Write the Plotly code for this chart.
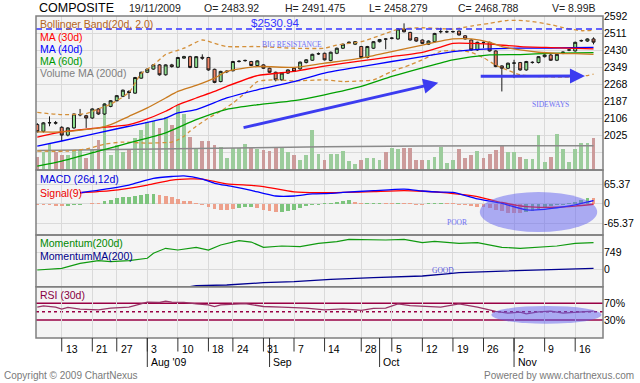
import plotly.graph_objects as go

# ---------------- data (x = trading-day index, Jul 6 2009 .. Nov 19 2009) ----------------
days = list(range(92))
tick_idx = [4, 9, 13, 18, 23, 28, 32, 37, 42, 47, 53, 58, 63, 68, 73, 78, 83, 88]
tick_lbl = ["13", "21", "27", "3", "10", "18", "24", "31", "7", "14", "28", "5", "12", "19", "26", "2", "9", "16"]
month_idx = [18, 38, 56, 78]
month_lbl = ["Aug '09", "Sep", "Oct", "Nov"]

open_ = [2078, 2046, 2086, 2087, 2065, 2028, 2062, 2124, 2120, 2109,
         2152, 2128, 2164, 2191, 2212, 2235, 2227, 2298, 2326, 2341,
         2361, 2314, 2361, 2350, 2393, 2400, 2349, 2397, 2396, 2340,
         2282, 2328, 2333, 2377, 2381, 2377, 2358, 2361, 2345, 2326,
         2290, 2322, 2345, 2342, 2372, 2383, 2413, 2416, 2382, 2416,
         2440, 2465, 2459, 2448, 2396, 2440, 2471, 2484, 2487, 2484,
         2531, 2515, 2490, 2479, 2459, 2471, 2518, 2518, 2518, 2521,
         2499, 2479, 2432, 2468, 2468, 2427, 2356, 2345, 2369, 2372,
         2337, 2372, 2372, 2400, 2408, 2383, 2420, 2431, 2427, 2475,
         2474, 2483.92]
high = [2085, 2090, 2117, 2095, 2070, 2066, 2130, 2152, 2124, 2155,
        2156, 2178, 2194, 2218, 2244, 2241, 2304, 2329, 2344, 2364,
        2365, 2364, 2366, 2399, 2404, 2404, 2403, 2411, 2399, 2343,
        2333, 2335, 2380, 2384, 2386, 2380, 2383, 2364, 2348, 2329,
        2325, 2340, 2348, 2377, 2388, 2414, 2420, 2419, 2424, 2443,
        2462, 2472, 2474, 2451, 2451, 2474, 2484, 2488, 2492, 2534,
        2558, 2518, 2493, 2482, 2477, 2513, 2537, 2524, 2523, 2524,
        2502, 2482, 2471, 2472, 2471, 2430, 2359, 2372, 2385, 2375,
        2380, 2378, 2403, 2411, 2412, 2414, 2425, 2436, 2471, 2481,
        2487, 2491.475]
low = [2040, 2040, 2070, 2078, 1999, 2022, 2058, 2117, 2062, 2105,
       2124, 2124, 2160, 2188, 2208, 2199, 2224, 2295, 2322, 2338,
       2310, 2310, 2348, 2346, 2390, 2345, 2346, 2385, 2333, 2274,
       2278, 2322, 2330, 2372, 2376, 2355, 2355, 2342, 2323, 2283,
       2286, 2318, 2327, 2338, 2368, 2380, 2408, 2382, 2378, 2412,
       2436, 2460, 2455, 2393, 2392, 2436, 2467, 2435, 2482, 2480,
       2515, 2476, 2470, 2460, 2455, 2468, 2510, 2512, 2513, 2500,
       2481, 2429, 2428, 2440, 2424, 2350, 2235, 2341, 2298, 2333,
       2333, 2367, 2368, 2396, 2380, 2379, 2412, 2426, 2424, 2470,
       2470, 2458.279]
close = [2044, 2086, 2087, 2085, 2028, 2062, 2128, 2125, 2109, 2152,
         2128, 2175, 2191, 2215, 2241, 2230, 2301, 2326, 2341, 2361,
         2314, 2361, 2353, 2396, 2400, 2349, 2400, 2393, 2337, 2278,
         2330, 2331, 2377, 2378, 2382, 2358, 2380, 2345, 2326, 2290,
         2322, 2337, 2330, 2374, 2385, 2411, 2414, 2385, 2421, 2440,
         2459, 2468, 2471, 2396, 2448, 2471, 2481, 2483, 2488, 2531,
         2518, 2479, 2474, 2463, 2474, 2510, 2519, 2518, 2519, 2503,
         2484, 2432, 2468, 2467, 2427, 2353, 2345, 2369, 2370, 2337,
         2377, 2373, 2400, 2408, 2383, 2411, 2421, 2432, 2468, 2476,
         2484, 2468.788]
volume_b = [3.8, 5.2, 7.3, 5.2, 4.3, 4.3, 5.7, 5.7, 3.3, 5.7,
            8.5, 18.9, 4.3, 7.1, 5.2, 5.7, 9.0, 11.3, 13.7, 13.9,
            11.8, 15.1, 12.8, 18.4, 15.8, 9.5, 6.0, 8.2, 8.2, 7.1,
            6.6, 3.3, 6.3, 6.3, 7.3, 6.3, 6.0, 5.7, 5.4, 6.3,
            6.3, 5.2, 4.3, 2.8, 4.3, 11.3, 4.6, 2.8, 4.4, 4.4,
            5.4, 2.6, 1.6, 2.8, 3.5, 3.5, 2.8, 5.2, 6.3, 6.1,
            6.3, 6.3, 2.8, 2.8, 2.8, 3.8, 6.6, 1.9, 2.8, 6.1,
            3.5, 4.3, 5.4, 3.3, 4.4, 5.7, 7.1, 5.2, 5.2, 3.8,
            3.1, 3.1, 9.9, 2.4, 3.8, 10.1, 6.1, 2.4, 6.1, 7.6,
            7.6, 8.99]
vma_i = [0, 16, 31, 47, 63, 91]
vma_v = [5.5, 5.9, 6.3, 6.6, 6.8, 6.9]

bb_mid_i = [0, 4, 10, 12, 15, 18, 21, 23, 26, 29, 31, 36, 42, 47, 53, 58, 63, 66, 68, 71, 74, 76, 79, 82, 85, 88, 91]
bb_mid_v = [2043, 2043, 2062, 2078, 2117, 2157, 2204, 2235, 2264, 2298, 2330, 2353, 2349, 2369, 2393, 2424, 2455,
            2474, 2484, 2484, 2468, 2448, 2432, 2421, 2416, 2414, 2411]
bb_up_i = [0, 4, 8, 10, 12, 15, 17, 19, 21, 24, 27, 29, 31, 36, 42, 47, 49, 53, 55, 57, 59, 63, 68, 71, 74, 77,
           80, 84, 86, 89, 91]
bb_up_v = [2136, 2125, 2130, 2152, 2175, 2230, 2320, 2360, 2410, 2440, 2479, 2463, 2448, 2448, 2440, 2440, 2455,
           2471, 2490, 2510, 2530, 2537, 2531, 2545, 2558, 2572, 2570, 2552, 2538, 2523, 2526]
bb_lo_i = [0, 5, 8, 11, 14, 18, 22, 23, 24, 25, 26, 28, 30, 32, 34, 36, 39, 42, 47, 50, 53, 55, 58, 61, 63, 66,
           69, 71, 73, 75, 77, 79, 82, 86, 89, 91]
bb_lo_v = [1952, 1952, 1962, 1985, 1995, 1990, 1995, 2005, 2023, 2047, 2070, 2109, 2141, 2180, 2227, 2282, 2290,
           2285, 2290, 2282, 2285, 2290, 2330, 2361, 2385, 2425, 2430, 2420, 2395, 2360, 2335, 2314, 2306, 2303,
           2306, 2317]
ma30_i = [0, 4, 10, 15, 17, 21, 23, 26, 29, 31, 36, 42, 47, 53, 58, 63, 66, 68, 71, 74, 79, 84, 91]
ma30_v = [2018, 2043, 2062, 2078, 2094, 2141, 2172, 2204, 2235, 2259, 2310, 2330, 2355, 2380, 2400, 2420, 2445,
          2463, 2463, 2459, 2448, 2443, 2437]
ma40_i = [0, 4, 10, 15, 21, 23, 26, 31, 36, 42, 47, 53, 58, 63, 68, 74, 79, 84, 91]
ma40_v = [1976, 2000, 2039, 2070, 2109, 2133, 2149, 2204, 2243, 2282, 2322, 2353, 2377, 2400, 2424, 2437, 2440,
          2441, 2444]
ma60_i = [0, 4, 10, 15, 21, 26, 31, 36, 42, 47, 53, 58, 63, 68, 74, 79, 84, 91]
ma60_v = [1881, 1905, 1952, 1991, 2039, 2101, 2150, 2172, 2191, 2219, 2259, 2306, 2347, 2385, 2408, 2410, 2416, 2419]

resistance = 2530.94

macd_i = [7, 12, 15, 19, 22, 24, 27, 29, 32, 35, 37, 39, 42, 45, 48, 50, 55, 60, 63, 66, 68, 72, 76, 80, 83, 86, 88, 91]
macd_v = [37, 52, 63, 86, 92, 94, 83, 69, 58, 45, 35, 26, 26, 33, 35, 38, 44, 49, 43, 39, 38, 16, 1, -21, -19, -11, -4, 10]
sig_i = [7, 12, 18, 22, 25, 27, 31, 35, 37, 42, 46, 50, 55, 60, 63, 66, 72, 76, 80, 85, 88, 91]
sig_v = [37, 44, 63, 80, 84, 83, 67, 62, 58, 40, 37, 38, 41, 44, 42, 38, 24, 4, -10, -12, -8, -2]
hist_v = [-5.5, -5.5, -3.3, -7.8, -7.8, -7.8, -5.5, -3.3, -2, 3.5,
          3.5, 8, 12.5, 18, 21.6, 24, 26, 29.5, 33, 33,
          29.5, 26, 21.6, 14.8, 10, 8, 3.5, -3.3, -12, -19,
          -21, -21, -19, -15, -12, -12, -13, -20, -26, -28,
          -27, -25, -22, -14, -8, -4, -3, 3, 4, 6,
          8, 11, 6, 3, 3, 4, 4, 3, 3, 4,
          3, 3, -3, -3, 3, 4, 4, 3, 3, -3,
          -4, -8, -10, -12, -14, -20, -26, -30, -32, -32,
          -28, -24, -19, -14, -9, -5, -3, 3, 6, 12,
          18, 20]
hist_up = [0, 0, 0, 0, 0, 1, 1, 1, 1, 0,
           0, 1, 1, 1, 1, 1, 1, 1, 1, 1,
           0, 0, 0, 0, 0, 0, 0, 0, 0, 0,
           0, 0, 0, 1, 1, 1, 0, 0, 0, 0,
           1, 1, 1, 1, 1, 1, 1, 1, 1, 1,
           1, 1, 0, 0, 1, 1, 1, 0, 0, 1,
           0, 0, 0, 0, 1, 1, 1, 0, 0, 0,
           0, 0, 0, 0, 0, 0, 0, 0, 0, 0,
           1, 1, 1, 1, 1, 1, 1, 1, 1, 1,
           1, 0]

mom_i = [0, 4, 7, 10, 12, 15, 18, 19, 21, 23, 26, 28, 30, 33, 35, 37, 40, 43, 46, 49, 51, 54, 57, 60, 63, 65,
         67, 69, 72, 76, 79, 82, 85, 88, 91]
mom_v = [-31, 44, 264, 379, 335, 379, 485, 705, 925, 850, 969, 850, 1071, 1260, 1200, 969, 1027, 1000, 1145,
         1216, 1322, 1300, 1290, 1322, 1172, 1230, 1200, 1145, 1172, 969, 925, 969, 1027, 1145, 1172]
momma_i = [25, 26, 31, 37, 42, 48, 55, 63, 67, 69, 75, 82, 88, 91]
momma_v = [-760, -722, -692, -590, -546, -440, -370, -295, -200, -150, -90, -31, 20, 44]

rsi_i = [0, 1, 3, 4, 5, 7, 10, 12, 15, 17, 18, 20, 21, 22, 24, 26, 28, 29, 30, 34, 37, 40, 44, 47, 50, 53, 55,
         57, 59, 61, 63, 66, 69, 72, 75, 77, 79, 80, 82, 84, 86, 88, 91]
rsi_v = [60.6, 63.6, 60.6, 55.9, 59.9, 55.9, 54.2, 58.2, 60.6, 67.6, 72.4, 71.6, 74.7, 72.4, 72.0, 68.4, 66, 62,
         66, 69, 62.2, 60.6, 58.2, 54.3, 56.7, 52.8, 57.5, 58.2, 68.4, 64, 62.2, 60.6, 68.4, 60.6, 50.4, 46.5,
         48.8, 44.9, 49.6, 51.2, 46.5, 48.8, 51.2]

# ---------------- geometry helpers (layout only) ----------------
W, H = 640, 383
LPX, RPX, TPX, BPX = 36, 603, 16, 338


def fx(px):
    return (px - LPX) / (RPX - LPX)


def fy(py):
    return (BPX - py) / (BPX - TPX)


MAIN = [fy(170), 1.0]
MACD = [fy(235), fy(170)]
MOM = [fy(286.7), fy(235)]
RSI = [0.0, fy(286.7)]

FONT = "Liberation Sans, Arial, sans-serif"
SERIF = "Liberation Serif, Times New Roman, serif"
GREEN_C, RED_C = "#8fe08f", "#f08466"
GREEN_V, RED_V = "#9ccc9c", "#cc9b9b"
BB_COL = "#c97a1e"

fig = go.Figure()

# volume
vcol = [GREEN_V if c >= o else RED_V for o, c in zip(open_, close)]
fig.add_trace(go.Bar(x=days, y=volume_b, width=0.62, marker=dict(color=vcol, line=dict(width=0)),
                     xaxis="x", yaxis="y"))
fig.add_trace(go.Scatter(x=vma_i, y=vma_v, mode="lines", line=dict(color="#8a8a8a", width=1.5),
                         xaxis="x", yaxis="y"))

# price overlays
fig.add_trace(go.Scatter(x=bb_up_i, y=bb_up_v, mode="lines", line=dict(color="#d4903a", width=1.3, dash="4px,3px",
                                                                        shape="spline", smoothing=0.6),
                         xaxis="x", yaxis="y5"))
fig.add_trace(go.Scatter(x=bb_lo_i, y=bb_lo_v, mode="lines", line=dict(color="#d4903a", width=1.3, dash="4px,3px",
                                                                        shape="spline", smoothing=0.6),
                         xaxis="x", yaxis="y5"))
fig.add_trace(go.Scatter(x=ma60_i, y=ma60_v, mode="lines", line=dict(color="#00a000", width=1.3, shape="spline",
                                                                      smoothing=0.6), xaxis="x", yaxis="y5"))
fig.add_trace(go.Scatter(x=ma40_i, y=ma40_v, mode="lines", line=dict(color="#0000ff", width=1.3, shape="spline",
                                                                      smoothing=0.6), xaxis="x", yaxis="y5"))
fig.add_trace(go.Scatter(x=ma30_i, y=ma30_v, mode="lines", line=dict(color="#ff0000", width=1.3, shape="spline",
                                                                      smoothing=0.6), xaxis="x", yaxis="y5"))
fig.add_trace(go.Scatter(x=bb_mid_i, y=bb_mid_v, mode="lines", line=dict(color=BB_COL, width=1.3, shape="spline",
                                                                          smoothing=0.6), xaxis="x", yaxis="y5"))
fig.add_trace(go.Candlestick(x=days, open=open_, high=high, low=low, close=close,
                             increasing=dict(fillcolor=GREEN_C, line=dict(color="#1a1a1a", width=1)),
                             decreasing=dict(fillcolor=RED_C, line=dict(color="#1a1a1a", width=1)),
                             whiskerwidth=0, xaxis="x", yaxis="y5"))

# MACD
hcol = ["#7dc47d" if u else "#eda08b" for u in hist_up]
fig.add_trace(go.Bar(x=days, y=hist_v, width=0.62, marker=dict(color=hcol, line=dict(width=0)),
                     xaxis="x2", yaxis="y2"))
fig.add_trace(go.Scatter(x=sig_i, y=sig_v, mode="lines", line=dict(color="#ff0000", width=1.3, shape="spline",
                                                                    smoothing=0.6), xaxis="x2", yaxis="y2"))
fig.add_trace(go.Scatter(x=macd_i, y=macd_v, mode="lines", line=dict(color="#0000ff", width=1.3, shape="spline",
                                                                      smoothing=0.6), xaxis="x2", yaxis="y2"))

# Momentum
fig.add_trace(go.Scatter(x=mom_i, y=mom_v, mode="lines", line=dict(color="#109a10", width=1.2),
                         xaxis="x3", yaxis="y3"))
fig.add_trace(go.Scatter(x=momma_i, y=momma_v, mode="lines", line=dict(color="#000090", width=1.3),
                         xaxis="x3", yaxis="y3"))

# RSI
fig.add_trace(go.Scatter(x=rsi_i, y=rsi_v, mode="lines", line=dict(color="#993366", width=1.3),
                         xaxis="x4", yaxis="y4"))

# ---------------- axes ----------------
xcommon = dict(range=[-0.21, 92.55], tickmode="array", tickvals=tick_idx, showticklabels=False, showgrid=True,
               gridcolor="#dadada", gridwidth=1, zeroline=False, ticks="", showline=False, fixedrange=True)
price_ticks = [1863, 1944, 2025, 2106, 2187, 2268, 2349, 2430, 2511, 2592]
price_text = ["", ""] + [str(v) for v in price_ticks[2:]]
ycommon = dict(side="right", ticks="", showline=False, zeroline=False, gridcolor="#dadada", gridwidth=1,
               tickfont=dict(size=10.5, color="#000"), fixedrange=True)

fig.update_layout(
    width=W, height=H, margin=dict(l=LPX, r=W - RPX, t=TPX, b=H - BPX, autoexpand=False),
    paper_bgcolor="white", plot_bgcolor="#f4f4f4", showlegend=False, hovermode=False,
    font=dict(family=FONT, size=10, color="#000"), bargap=0,
    xaxis=dict(xcommon, anchor="y", rangeslider=dict(visible=False)),
    xaxis2=dict(xcommon, anchor="y2", matches="x"),
    xaxis3=dict(xcommon, anchor="y3", matches="x"),
    xaxis4=dict(xcommon, anchor="y4", matches="x"),
    yaxis=dict(domain=MAIN, range=[0, 43.7], visible=False, fixedrange=True),
    yaxis5=dict(ycommon, overlaying="y", anchor="x", range=[1862.5, 2592.8], tickmode="array",
                tickvals=price_ticks, ticktext=price_text, showgrid=True),
    yaxis2=dict(ycommon, domain=MACD, anchor="x2", range=[-106, 114], tickmode="array",
                tickvals=[-65.37, 0, 65.37], ticktext=["-65.37", "0", "65.37"], showgrid=True),
    yaxis3=dict(ycommon, domain=MOM, anchor="x3", range=[-767, 1511], tickmode="array",
                tickvals=[0, 749], ticktext=["0", "749"], showgrid=True),
    yaxis4=dict(ycommon, domain=RSI, anchor="x4", range=[-12.4, 109], tickmode="array",
                tickvals=[30, 70], ticktext=["30%", "70%"], showgrid=False),
)

shapes = []
for lvl, dash in [(70, "solid"), (30, "solid"), (50, "dot")]:
    shapes.append(dict(type="line", xref="paper", x0=0, x1=1, yref="y4", y0=lvl, y1=lvl,
                       line=dict(color="#990044", width=1.5, dash=dash), layer="below"))
shapes.append(dict(type="line", xref="paper", x0=0, x1=1, yref="y5", y0=resistance, y1=resistance,
                   line=dict(color="#3535ff", width=1.5, dash="6px,4px")))
shapes.append(dict(type="circle", xref="x2", yref="y2", x0=72.4, x1=91.6, y0=-95.9, y1=39.6,
                   fillcolor="rgb(95,95,240)", opacity=0.5, line=dict(width=0)))
shapes.append(dict(type="circle", xref="x4", yref="y4", x0=74.3, x1=92.3, y0=21.3, y1=63.6,
                   fillcolor="rgb(95,95,240)", opacity=0.5, line=dict(width=0)))
for dom in (MAIN, MACD, MOM, RSI):
    shapes.append(dict(type="rect", xref="paper", yref="paper", x0=0, x1=1, y0=dom[0], y1=dom[1],
                       line=dict(color="#7f7f7f", width=1.5), fillcolor="rgba(0,0,0,0)"))
for i in tick_idx:
    shapes.append(dict(type="line", xref="x4", x0=i, x1=i, yref="paper", y0=0, y1=fy(351.5),
                       line=dict(color="#333333", width=1)))
for i in month_idx:
    shapes.append(dict(type="line", xref="x4", x0=i, x1=i, yref="paper", y0=0, y1=fy(367),
                       line=dict(color="#333333", width=1)))

ann = []


def txt(text, x, y, color="#000", size=10, xanchor="left", family=FONT, xref="paper", yref="paper"):
    ann.append(dict(text=text, x=x, y=y, xref=xref, yref=yref, xanchor=xanchor, yanchor="middle",
                    showarrow=False, font=dict(family=family, size=size, color=color)))


txt("COMPOSITE", fx(37), fy(8), size=12.5)
for s, px in [("19/11/2009", 127), ("O= 2483.92", 202), ("H= 2491.475", 283), ("L= 2458.279", 367),
              ("C= 2468.788", 456), ("V= 8.99B", 550)]:
    txt(s, fx(px), fy(8), size=10.5, color="#222")

txt("Bollinger Band(20d, 2.0)", fx(38), fy(24), color="#b5651d", size=10.5)
txt("MA (30d)", fx(38), fy(36.7), color="#ff0000", size=10.5)
txt("MA (40d)", fx(38), fy(49), color="#0000ff", size=10.5)
txt("MA (60d)", fx(38), fy(61), color="#009900", size=10.5)
txt("Volume MA (200d)", fx(38), fy(72.7), color="#808080", size=10.5)
txt("MACD (26d,12d)", fx(38), fy(179.3), color="#0000dd", size=10.5)
txt("Signal(9)", fx(38), fy(192.7), color="#ee0000", size=10.5)
txt("Momentum(200d)", fx(38), fy(243.3), color="#008800", size=10.5)
txt("MomentumMA(200)", fx(38), fy(256), color="#000088", size=10.5)
txt("RSI (30d)", fx(38), fy(295), color="#880044", size=10.5)

txt("$2530.94", 38.9, 2559.5, color="#3333ff", size=11.5, xanchor="center", xref="x", yref="y5")
txt("BIG RESISTANCE", 41.7, 2456, color="#7070f5", size=7.5, xanchor="center", family=SERIF, xref="x", yref="y5")
txt("SIDEWAYS", 83.9, 2173, color="#7070f5", size=7.5, xanchor="center", family=SERIF, xref="x", yref="y5")
txt("POOR", 68.6, -63, color="#7070f5", size=7.5, xanchor="center", family=SERIF, xref="x2", yref="y2")
txt("GOOD", 66.3, -31, color="#5555dd", size=7.5, xanchor="center", family=SERIF, xref="x3", yref="y3")

for (x0, y0, x1, y1) in [(33.5, 2061.7, 65.6, 2276.4), (72.3, 2307, 89.6, 2308)]:
    ann.append(dict(x=x1, y=y1, ax=x0, ay=y0, xref="x", yref="y5", axref="x", ayref="y5", text="",
                    showarrow=True, arrowhead=2, arrowsize=1, arrowwidth=3, arrowcolor="#3c3cf0", standoff=0))

for i, s in zip(tick_idx, tick_lbl):
    txt(s, i + 0.3, fy(348.5), xref="x4", size=10.5)
for i, s in zip(month_idx, month_lbl):
    txt(s, i + 0.3, fy(361.5), xref="x4", size=10.5)

txt("Copyright \u00a9 2009 ChartNexus", fx(2), fy(376), color="#7a7a7a", size=10)
txt("Powered by www.chartnexus.com", fx(636), fy(376), color="#7a7a7a", size=10, xanchor="right")

fig.update_layout(shapes=shapes, annotations=ann)
fig.write_html("out.html", config={"displayModeBar": False, "staticPlot": True},
               post_script="document.body.style.margin='0';document.body.style.overflow='hidden';")
